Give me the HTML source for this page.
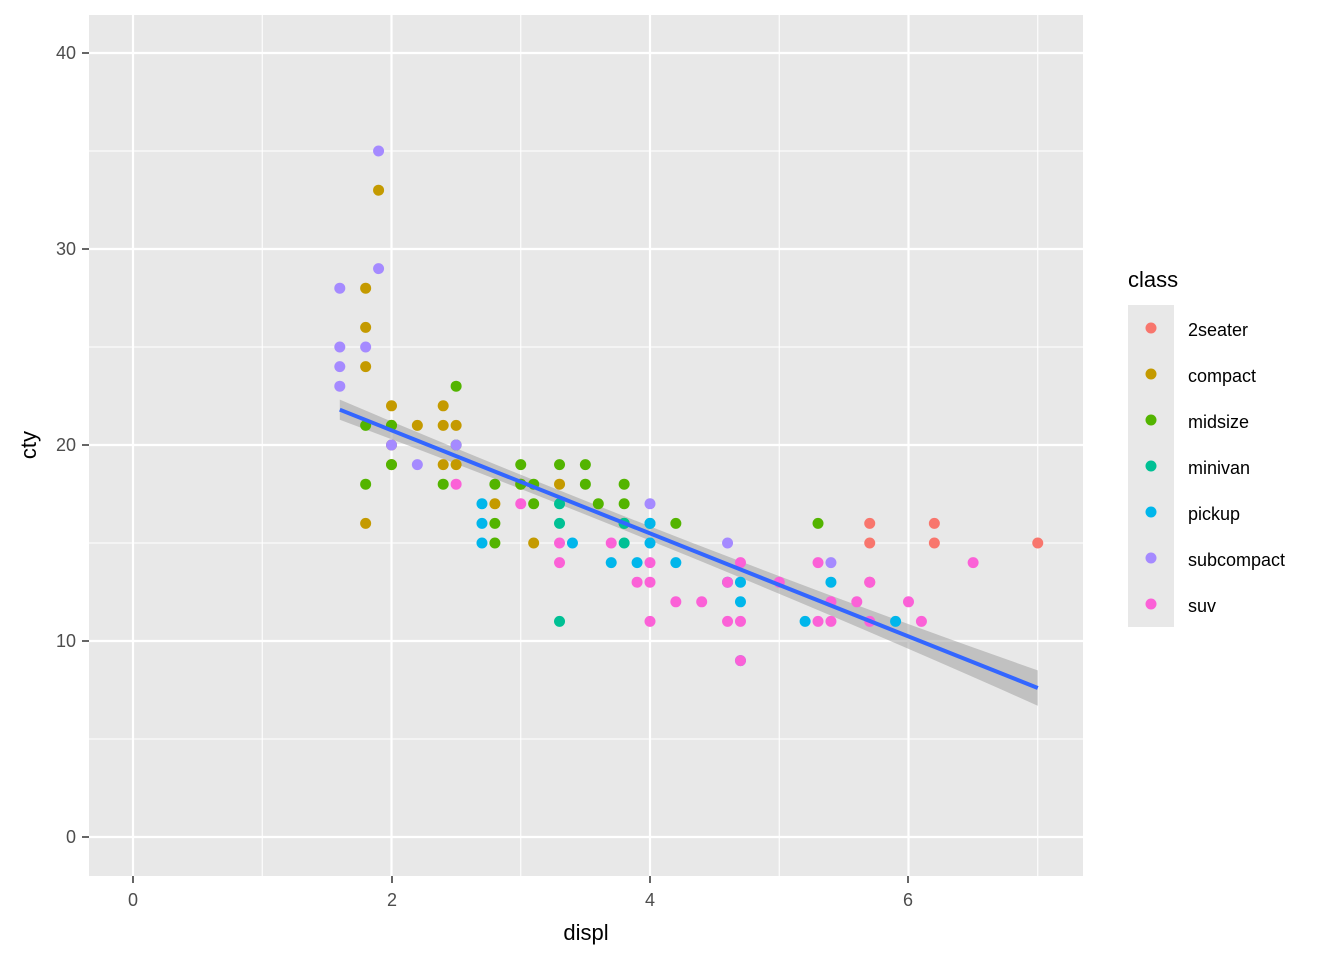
<!DOCTYPE html>
<html><head><meta charset="utf-8"><style>
html,body{margin:0;padding:0;background:#fff;}
svg text{font-family:"Liberation Sans",Arial,sans-serif;}
</style></head><body>
<svg id="s" width="1344" height="960" xmlns="http://www.w3.org/2000/svg">
<rect x="0" y="0" width="1344" height="960" fill="#fff"/>
<rect x="89" y="15" width="994" height="861" fill="#E8E8E8"/>
<g id="grid"></g>
<polygon id="band" fill="#999" fill-opacity="0.5"/>
<g id="pts"></g>
<line x1="339.8" y1="409.7" x2="1037.8" y2="688" stroke="#3366FF" stroke-width="4"/>
<g fill="#4D4D4D" font-size="18" text-anchor="end">
<text x="76" y="843">0</text><text x="76" y="647">10</text><text x="76" y="451">20</text><text x="76" y="255">30</text><text x="76" y="59">40</text>
</g>
<g fill="#4D4D4D" font-size="18" text-anchor="middle">
<text x="133" y="906">0</text><text x="392" y="906">2</text><text x="650" y="906">4</text><text x="908" y="906">6</text>
</g>
<g stroke="#333" stroke-width="1.5">
<line x1="82" y1="837" x2="89" y2="837"/><line x1="82" y1="641" x2="89" y2="641"/><line x1="82" y1="445" x2="89" y2="445"/><line x1="82" y1="249" x2="89" y2="249"/><line x1="82" y1="53" x2="89" y2="53"/>
<line x1="133" y1="876" x2="133" y2="883"/><line x1="392" y1="876" x2="392" y2="883"/><line x1="650" y1="876" x2="650" y2="883"/><line x1="908" y1="876" x2="908" y2="883"/>
</g>
<text x="586" y="940" font-size="22" text-anchor="middle" fill="#000">displ</text>
<text transform="translate(36,445) rotate(-90)" font-size="22" text-anchor="middle" fill="#000">cty</text>
<text x="1128" y="287" font-size="22" fill="#000">class</text>
<rect x="1128" y="305" width="46" height="322" fill="#E8E8E8"/>
<g id="leg"></g>
<g font-size="18" fill="#000">
<text x="1188" y="336">2seater</text><text x="1188" y="382">compact</text><text x="1188" y="428">midsize</text><text x="1188" y="474">minivan</text><text x="1188" y="520">pickup</text><text x="1188" y="566">subcompact</text><text x="1188" y="612">suv</text>
</g>
</svg>
<script>
var NS="http://www.w3.org/2000/svg";
function X(v){return 133+v*129.25}function Y(v){return 837-v*19.6}
function el(p,t,a){var e=document.createElementNS(NS,t);for(var k in a)e.setAttribute(k,a[k]);document.getElementById(p).appendChild(e);return e;}
for(var i=0;i<=7;i+=1){var x=X(i);el("grid","line",{x1:x,x2:x,y1:15,y2:876,stroke:"#fff","stroke-width":(i%2===0)?2.2:1.1});}
for(var j=0;j<=40;j+=5){var y=Y(j);el("grid","line",{x1:89,x2:1083,y1:y,y2:y,stroke:"#fff","stroke-width":(j%10===0)?2.2:1.1});}
var n=20;
function f(x){return 21.8+(x-1.6)*(7.6-21.8)/5.4}
function se(x){var d=x-3.5;return 0.35+0.045*d*d}
var up=[],lo=[];
for(var k=0;k<=n;k++){var x=1.6+5.4*k/n;var s=se(x);up.push(X(x)+","+Y(f(x)+s));lo.unshift(X(x)+","+Y(f(x)-s));}
document.getElementById("band").setAttribute("points",up.concat(lo).join(" "));
var C={a:"#F8766D",c:"#C49A00",m:"#53B400",v:"#00C094",p:"#00B6EB",s:"#A58AFF",u:"#FB61D7"};
var D={
a:[[5.7,16],[5.7,15],[6.2,16],[6.2,15],[7.0,15],[5.7,13]],
c:[[1.8,28],[1.8,26],[1.8,24],[1.9,33],[1.8,16],[2.0,22],[2.0,20],[2.0,21],[2.2,21],[2.4,22],[2.4,21],[2.4,19],[2.5,21],[2.5,19],[2.8,17],[3.0,18],[3.1,15],[3.3,18],[2.0,19]],
m:[[1.8,21],[1.8,18],[2.0,19],[2.0,21],[2.4,18],[2.5,23],[2.8,16],[2.8,15],[2.8,18],[3.0,19],[3.0,18],[3.1,17],[3.1,18],[3.3,19],[3.5,19],[3.5,18],[3.6,17],[3.8,18],[3.8,17],[3.8,16],[4.2,16],[5.3,16],[2.5,20]],
v:[[3.3,17],[3.3,16],[3.3,11],[3.8,15],[3.8,16],[4.0,16]],
p:[[2.7,17],[2.7,16],[2.7,15],[3.4,15],[3.7,14],[3.9,14],[4.0,15],[4.0,16],[4.2,14],[4.7,13],[4.7,12],[4.7,9],[5.2,11],[5.4,13],[5.9,11],[4.6,13]],
s:[[1.6,28],[1.6,25],[1.6,24],[1.6,23],[1.8,25],[1.9,35],[1.9,29],[2.0,20],[2.2,19],[2.5,20],[4.0,17],[4.6,15],[5.4,14]],
u:[[2.5,18],[3.0,17],[3.3,15],[3.3,14],[3.7,15],[3.9,13],[4.0,14],[4.0,13],[4.0,11],[4.2,12],[4.4,12],[4.6,13],[4.6,11],[4.7,14],[4.7,11],[4.7,9],[5.0,13],[5.3,14],[5.3,11],[5.4,12],[5.4,11],[5.6,12],[5.7,13],[5.7,11],[6.0,12],[6.1,11],[6.5,14]]};
for(var c in D)D[c].forEach(function(q){el("pts","circle",{cx:X(q[0]),cy:Y(q[1]),r:5.5,fill:C[c]});});
["a","c","m","v","p","s","u"].forEach(function(c,i){el("leg","circle",{cx:1151,cy:328+46*i,r:5.5,fill:C[c]});});
</script>
</body></html>
